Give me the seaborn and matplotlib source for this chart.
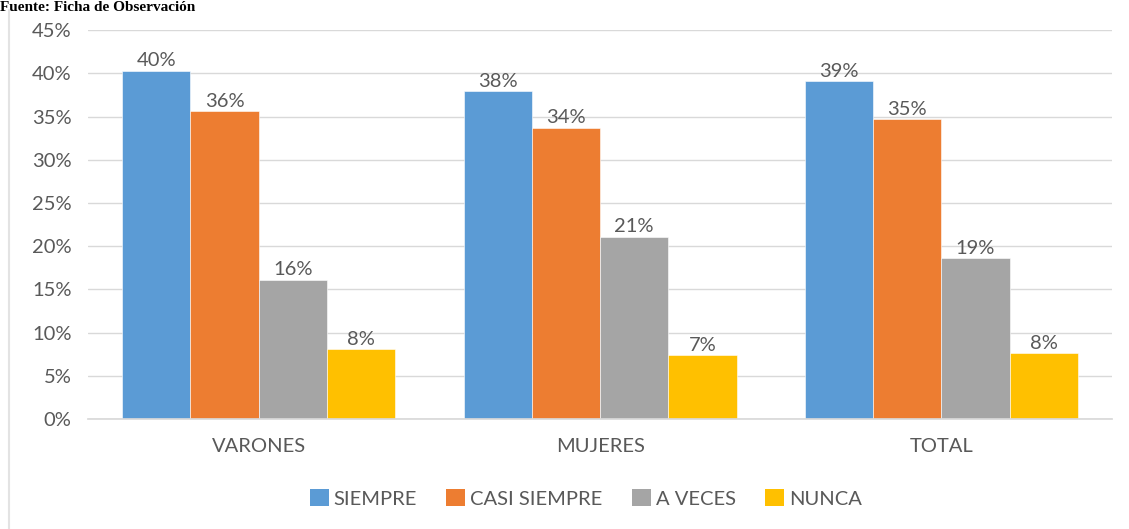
import matplotlib
matplotlib.use("Agg")
import matplotlib.pyplot as plt
import seaborn as sns
import pandas as pd
from matplotlib.patches import Patch

groups = ["VARONES", "MUJERES", "TOTAL"]
series = ["SIEMPRE", "CASI SIEMPRE", "A VECES", "NUNCA"]
siempre = [40.3, 37.9, 39.1]
casi_siempre = [35.6, 33.7, 34.7]
a_veces = [16.1, 21.1, 18.6]
nunca = [8.1, 7.4, 7.6]
colors = ["#5B9BD5", "#ED7D31", "#A5A5A5", "#FFC000"]
yticks = [0, 5, 10, 15, 20, 25, 30, 35, 40, 45]

rows = []
for s, vals in zip(series, [siempre, casi_siempre, a_veces, nunca]):
    for g, v in zip(groups, vals):
        rows.append({"grupo": g, "serie": s, "valor": v})
df = pd.DataFrame(rows)

sns.set_theme(style="white")
plt.rcParams["font.family"] = ["Lato", "DejaVu Sans"]
txt = "#595959"
fs = 14.5

fig = plt.figure(figsize=(11.29, 5.29), dpi=100)
ax = fig.add_axes([0.078, 0.208, 0.907, 0.735])

sns.barplot(data=df, x="grupo", y="valor", hue="serie", order=groups,
            hue_order=series, palette=colors, width=0.8, ax=ax,
            saturation=1, legend=False, edgecolor="white", linewidth=0.4)

for cont in ax.containers:
    ax.bar_label(cont, labels=[f"{b.get_height():.0f}%" for b in cont],
                 padding=1, fontsize=fs, color=txt)

ax.set_ylim(0, 45)
ax.set_xlim(-0.5, 2.5)
ax.set_yticks(yticks)
ax.set_yticklabels([f"{t}%" for t in yticks])
ax.yaxis.grid(True, color="#D9D9D9", linewidth=1)
ax.set_axisbelow(True)
for sp in ["top", "right", "left"]:
    ax.spines[sp].set_visible(False)
ax.spines["bottom"].set_color("#D9D9D9")
ax.tick_params(axis="y", length=0, pad=12, labelsize=fs, labelcolor=txt)
ax.tick_params(axis="x", length=0, pad=14, labelsize=fs, labelcolor=txt)
ax.set_xlabel("")
ax.set_ylabel("")

handles = [Patch(facecolor=c, edgecolor="none") for c in colors]
fig.legend(handles, series, loc="center", bbox_to_anchor=(0.519, 0.058),
           ncol=4, frameon=False, fontsize=fs, labelcolor=txt,
           handlelength=0.95, handleheight=0.95, handletextpad=0.25,
           columnspacing=1.45)

fig.add_artist(plt.Line2D([8.5 / 1129, 8.5 / 1129], [0, 1 - 10 / 529],
                          transform=fig.transFigure, color="#E3E3E3", lw=1.5))
fig.text(0.0, 1 - 1 / 529, "Fuente: Ficha de Observación", ha="left",
         va="top", fontsize=11, fontweight="bold",
         family=["Liberation Serif", "DejaVu Serif"], color="black")

fig.savefig("out.png", dpi=100, facecolor="white")
